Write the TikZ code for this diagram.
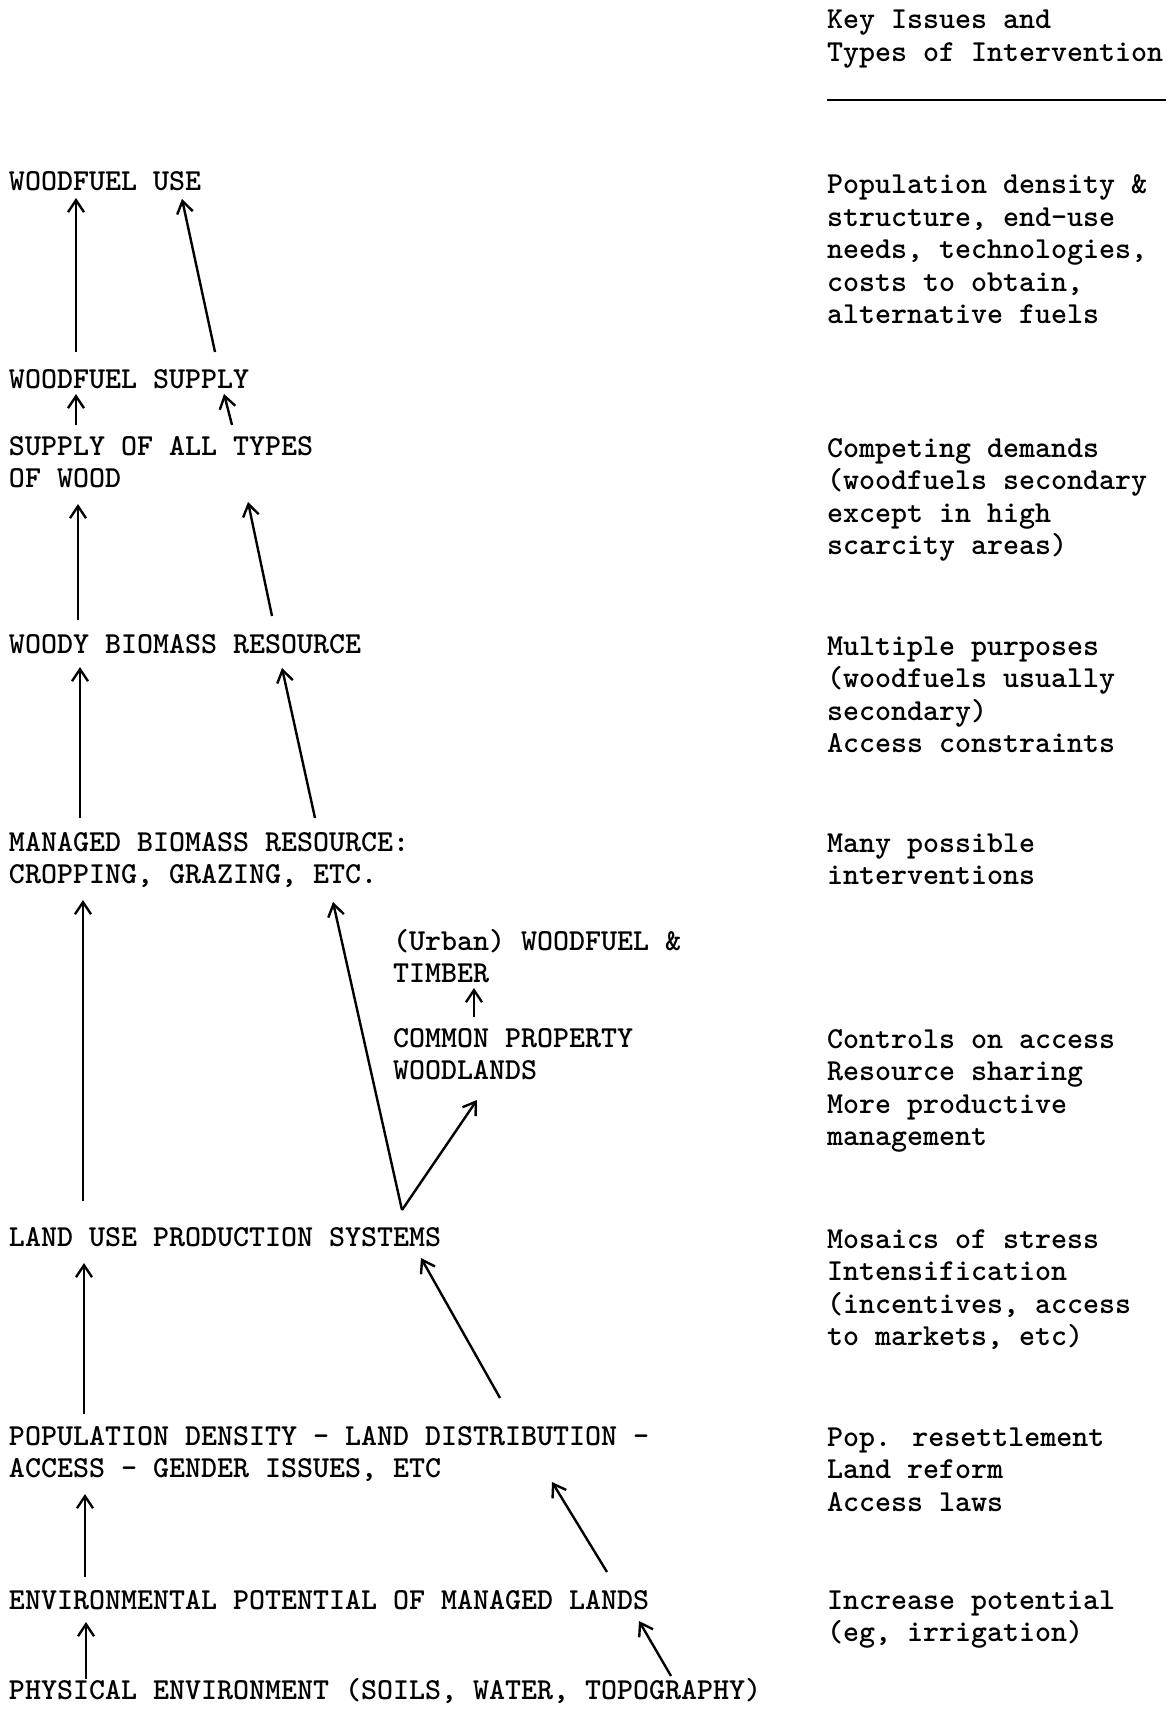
\documentclass[tikz,border=0pt]{standalone}
\usepackage{fontspec}
\usetikzlibrary{arrows.meta}
\newcommand\mlines[1]{\begin{tabular}[t]{@{}l@{}}#1\end{tabular}}
\tikzset{
  txt/.style={anchor=base west, inner sep=0pt, outer sep=0pt,
    font=\ttfamily\bfseries\fontsize{30.48}{32.5}\selectfont},
  link/.style={line width=2.4pt, -{Straight Barb[length=12pt,width=16pt]}},
  rule/.style={line width=1.8pt}
}
\begin{document}
\begin{tikzpicture}[x=1pt,y=-1pt]
\useasboundingbox (0,0) rectangle (1174,1712);
\fill[white] (0,0) rectangle (1174,1712);

% left column
\node[txt] (use) at (9,191) {WOODFUEL USE};
\node[txt] (supply) at (9,388) {WOODFUEL SUPPLY};
\node[txt] (alltypes) at (9,455) {\mlines{SUPPLY OF ALL TYPES\\OF WOOD}};
\node[txt] (woody) at (9,653) {WOODY BIOMASS RESOURCE};
\node[txt] (managed) at (9,851) {\mlines{MANAGED BIOMASS RESOURCE:\\CROPPING, GRAZING, ETC.}};
\node[txt] (urban) at (393,950) {\mlines{(Urban) WOODFUEL \&\\TIMBER}};
\node[txt] (common) at (393,1047) {\mlines{COMMON PROPERTY\\WOODLANDS}};
\node[txt] (landuse) at (9,1246) {LAND USE PRODUCTION SYSTEMS};
\node[txt] (popdens) at (9,1445) {\mlines{POPULATION DENSITY - LAND DISTRIBUTION -\\ACCESS - GENDER ISSUES, ETC}};
\node[txt] (envpot) at (9,1609) {ENVIRONMENTAL POTENTIAL OF MANAGED LANDS};
\node[txt] (physenv) at (9,1699) {PHYSICAL ENVIRONMENT (SOILS, WATER, TOPOGRAPHY)};

% right column
\node[txt] (keyhead) at (827,29) {\mlines{Key Issues and\\Types of Intervention}};
\coordinate (ruleL) at (827,100);
\coordinate (ruleR) at (1166,100);
\draw[rule] (ruleL) -- (ruleR);
\node[txt] (k1) at (827,194) {\mlines{Population density \&\\structure, end-use\\needs, technologies,\\costs to obtain,\\alternative fuels}};
\node[txt] (k2) at (827,457) {\mlines{Competing demands\\(woodfuels secondary\\except in high\\scarcity areas)}};
\node[txt] (k3) at (827,655) {\mlines{Multiple purposes\\(woodfuels usually\\secondary)\\Access constraints}};
\node[txt] (k4) at (827,852) {\mlines{Many possible\\interventions}};
\node[txt] (k5) at (827,1048) {\mlines{Controls on access\\Resource sharing\\More productive\\management}};
\node[txt] (k6) at (827,1248) {\mlines{Mosaics of stress\\Intensification\\(incentives, access\\to markets, etc)}};
\node[txt] (k7) at (827,1446) {\mlines{Pop. resettlement\\Land reform\\Access laws}};
\node[txt] (k8) at (827,1609) {\mlines{Increase potential\\(eg, irrigation)}};

% arrow end points
\coordinate (a1s) at (76,352);  \coordinate (a1e) at (76,198);
\coordinate (a2s) at (215,352); \coordinate (a2e) at (182,199);
\coordinate (a3s) at (76,425);  \coordinate (a3e) at (76,394);
\coordinate (a4s) at (232,425); \coordinate (a4e) at (224,394);
\coordinate (a5s) at (78,620);  \coordinate (a5e) at (78,504);
\coordinate (a6s) at (272,616); \coordinate (a6e) at (248,502);
\coordinate (a7s) at (80,818);  \coordinate (a7e) at (80,667);
\coordinate (a8s) at (315,818); \coordinate (a8e) at (282,668);
\coordinate (a9s) at (83,1201); \coordinate (a9e) at (83,900);
\coordinate (vtx) at (402,1210);
\coordinate (a10e) at (333,902);
\coordinate (a11e) at (477,1100);
\coordinate (a12s) at (474,1017); \coordinate (a12e) at (474,988);
\coordinate (a13s) at (84,1414); \coordinate (a13e) at (84,1263);
\coordinate (a14s) at (500,1398); \coordinate (a14e) at (421,1258);
\coordinate (a15s) at (85,1577); \coordinate (a15e) at (85,1494);
\coordinate (a16s) at (607,1572); \coordinate (a16e) at (552,1482);
\coordinate (a17s) at (86,1679); \coordinate (a17e) at (86,1622);
\coordinate (a18s) at (671,1676); \coordinate (a18e) at (639,1621);

\draw[link] (a1s) -- (a1e);
\draw[link] (a2s) -- (a2e);
\draw[link] (a3s) -- (a3e);
\draw[link] (a4s) -- (a4e);
\draw[link] (a5s) -- (a5e);
\draw[link] (a6s) -- (a6e);
\draw[link] (a7s) -- (a7e);
\draw[link] (a8s) -- (a8e);
\draw[link] (a9s) -- (a9e);
\draw[link] (vtx) -- (a10e);
\draw[link] (vtx) -- (a11e);
\draw[link] (a12s) -- (a12e);
\draw[link] (a13s) -- (a13e);
\draw[link] (a14s) -- (a14e);
\draw[link] (a15s) -- (a15e);
\draw[link] (a16s) -- (a16e);
\draw[link] (a17s) -- (a17e);
\draw[link] (a18s) -- (a18e);
\end{tikzpicture}
\end{document}
